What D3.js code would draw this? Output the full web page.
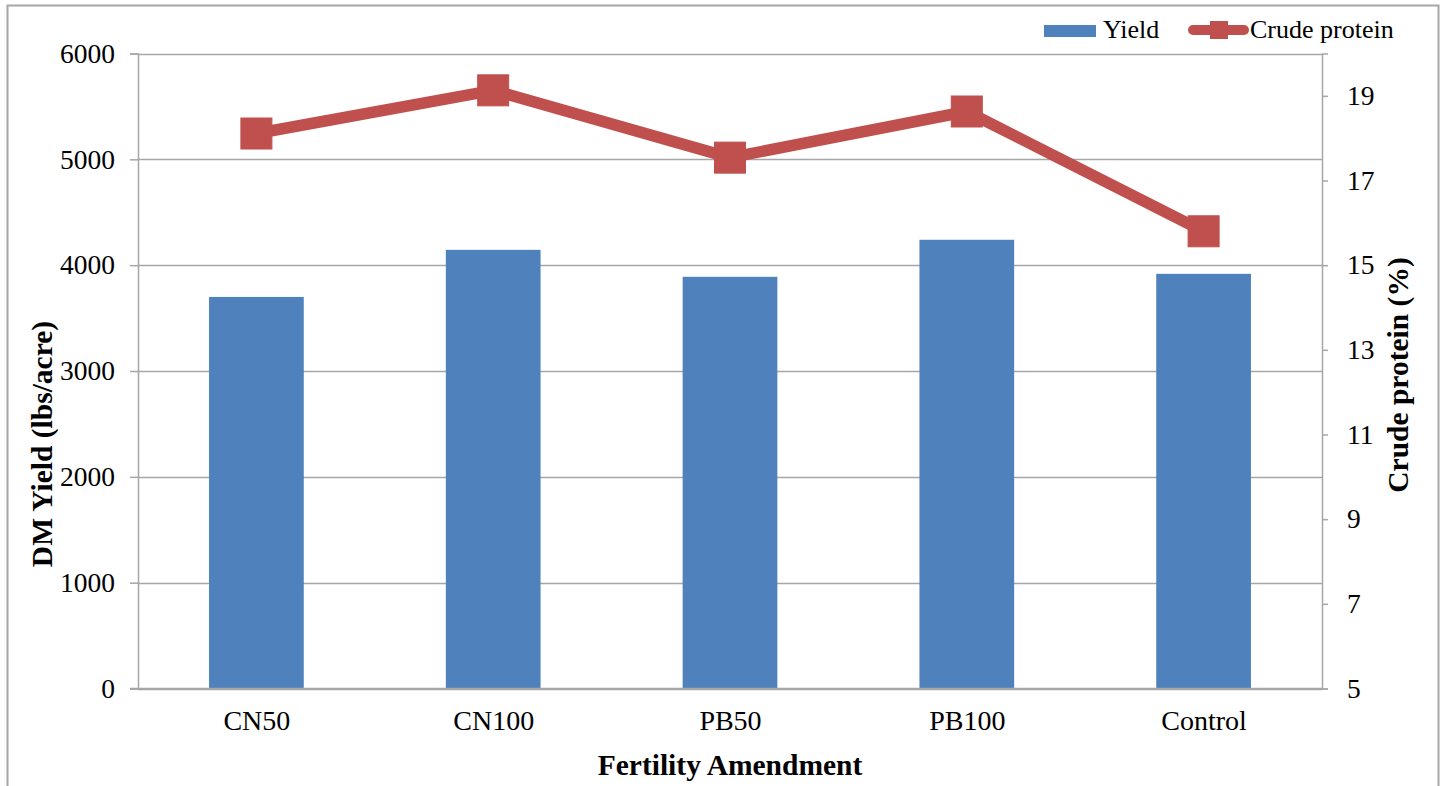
<!DOCTYPE html>
<html>
<head>
<meta charset="utf-8">
<script src="https://cdn.jsdelivr.net/npm/d3@7"></script>
<style>
  html, body { margin: 0; padding: 0; background: #fff; }
  svg { display: block; font-family: "Liberation Serif", "Times New Roman", serif; }
</style>
</head>
<body>
<svg id="chart" width="1443" height="786"></svg>
<script>
const categories = ["CN50", "CN100", "PB50", "PB100", "Control"];
const yieldValues = [3700, 4145, 3890, 4240, 3918];
const proteinValues = [18.11, 19.13, 17.54, 18.63, 15.80];
const leftTicks = [0, 1000, 2000, 3000, 4000, 5000, 6000];
const rightTicks = [5, 7, 9, 11, 13, 15, 17, 19];

const svg = d3.select("#chart");
const plot = { left: 138, right: 1322, top: 53.5, bottom: 688.5 };
const serif = "Liberation Serif";

// outer border
svg.append("rect").attr("x", 7.5).attr("y", 5.5).attr("width", 1431).attr("height", 790)
  .attr("fill", "#fff").attr("stroke", "#a6a6a6").attr("stroke-width", 2);

const x = d3.scaleBand().domain(categories).range([plot.left, plot.right]).paddingInner(0.6).paddingOuter(0.3);
const xPoint = d3.scalePoint().domain(categories).range([plot.left, plot.right]).padding(0.5);
const yL = d3.scaleLinear().domain([0, 6000]).range([plot.bottom, plot.top]);
const yR = d3.scaleLinear().domain([5, 20]).range([plot.bottom, plot.top]);

const grid = "#a6a6a6";

// gridlines
svg.append("g").selectAll("line").data(leftTicks).join("line")
  .attr("x1", plot.left).attr("x2", plot.right)
  .attr("y1", d => Math.round(yL(d)) + 0.5).attr("y2", d => Math.round(yL(d)) + 0.5)
  .attr("stroke", grid).attr("stroke-width", 1.5);

// bars
svg.append("g").selectAll("rect").data(categories).join("rect")
  .attr("x", d => x(d)).attr("width", x.bandwidth())
  .attr("y", (d, i) => yL(yieldValues[i]))
  .attr("height", (d, i) => yL(0) - yL(yieldValues[i]))
  .attr("fill", "#4f81bd");

// left axis
const leftAxis = svg.append("g").attr("transform", `translate(${plot.left},0)`)
  .call(d3.axisLeft(yL).tickValues(leftTicks).tickSize(8).tickPadding(15).tickFormat(d3.format("d")));
leftAxis.attr("font-family", serif);
leftAxis.select(".domain").attr("stroke", grid).attr("stroke-width", 1.5);
leftAxis.selectAll(".tick line").attr("stroke", grid).attr("stroke-width", 1.5);
leftAxis.selectAll("text").attr("font-size", 27.5).attr("fill", "#000").attr("font-family", serif);

// right axis
const rightAxis = svg.append("g").attr("transform", `translate(${plot.right},0)`)
  .call(d3.axisRight(yR).tickValues(rightTicks).tickSize(6).tickPadding(19).tickFormat(d3.format("d")));
rightAxis.attr("font-family", serif);
rightAxis.select(".domain").attr("stroke", grid).attr("stroke-width", 1.5);
rightAxis.selectAll(".tick line").attr("stroke", grid).attr("stroke-width", 1.5);
rightAxis.selectAll("text").attr("font-size", 27.5).attr("fill", "#000").attr("font-family", serif);

// bottom axis
const bottomAxis = svg.append("g").attr("transform", `translate(0,${plot.bottom})`)
  .call(d3.axisBottom(xPoint).tickSize(0).tickPadding(22));
bottomAxis.attr("font-family", serif);
bottomAxis.select(".domain").remove();
svg.append("line").attr("x1", plot.left - 8).attr("x2", plot.right).attr("y1", plot.bottom).attr("y2", plot.bottom)
  .attr("stroke", grid).attr("stroke-width", 1.5);
bottomAxis.selectAll("text").attr("font-size", 28).attr("fill", "#000").attr("font-family", serif);

// line series
const lineGen = d3.line().x((d, i) => xPoint(categories[i])).y(d => yR(d));
svg.append("path").datum(proteinValues).attr("d", lineGen)
  .attr("fill", "none").attr("stroke", "#c0504d").attr("stroke-width", 11.5).attr("stroke-linejoin", "round");
svg.append("g").selectAll("rect").data(proteinValues).join("rect")
  .attr("x", (d, i) => xPoint(categories[i]) - 15.5).attr("y", d => yR(d) - 15.5)
  .attr("width", 31).attr("height", 31).attr("fill", "#c0504d").attr("stroke", "#c0504d").attr("stroke-width", 1);

// axis titles
svg.append("text").attr("x", 730).attr("y", 775)
  .attr("text-anchor", "middle").attr("font-size", 29.5).attr("font-weight", "bold").attr("font-family", serif).text("Fertility Amendment");
svg.append("text").attr("transform", `translate(52,444) rotate(-90)`)
  .attr("text-anchor", "middle").attr("font-size", 29.5).attr("font-weight", "bold").attr("font-family", serif).text("DM Yield (lbs/acre)");
svg.append("text").attr("transform", `translate(1408,375) rotate(-90)`)
  .attr("text-anchor", "middle").attr("font-size", 29.5).attr("font-weight", "bold").attr("font-family", serif).text("Crude protein (%)");

// legend
const lg = svg.append("g").attr("font-family", serif);
lg.append("rect").attr("x", 1044).attr("y", 25).attr("width", 52).attr("height", 12).attr("fill", "#4f81bd");
lg.append("text").attr("x", 1103).attr("y", 38).attr("font-size", 26).text("Yield");
lg.append("line").attr("x1", 1193).attr("x2", 1244).attr("y1", 30).attr("y2", 30)
  .attr("stroke", "#c0504d").attr("stroke-width", 10).attr("stroke-linecap", "round");
lg.append("rect").attr("x", 1210).attr("y", 21).attr("width", 18).attr("height", 18).attr("fill", "#c0504d");
lg.append("text").attr("x", 1250).attr("y", 38).attr("font-size", 26).text("Crude protein");
</script>
</body>
</html>
